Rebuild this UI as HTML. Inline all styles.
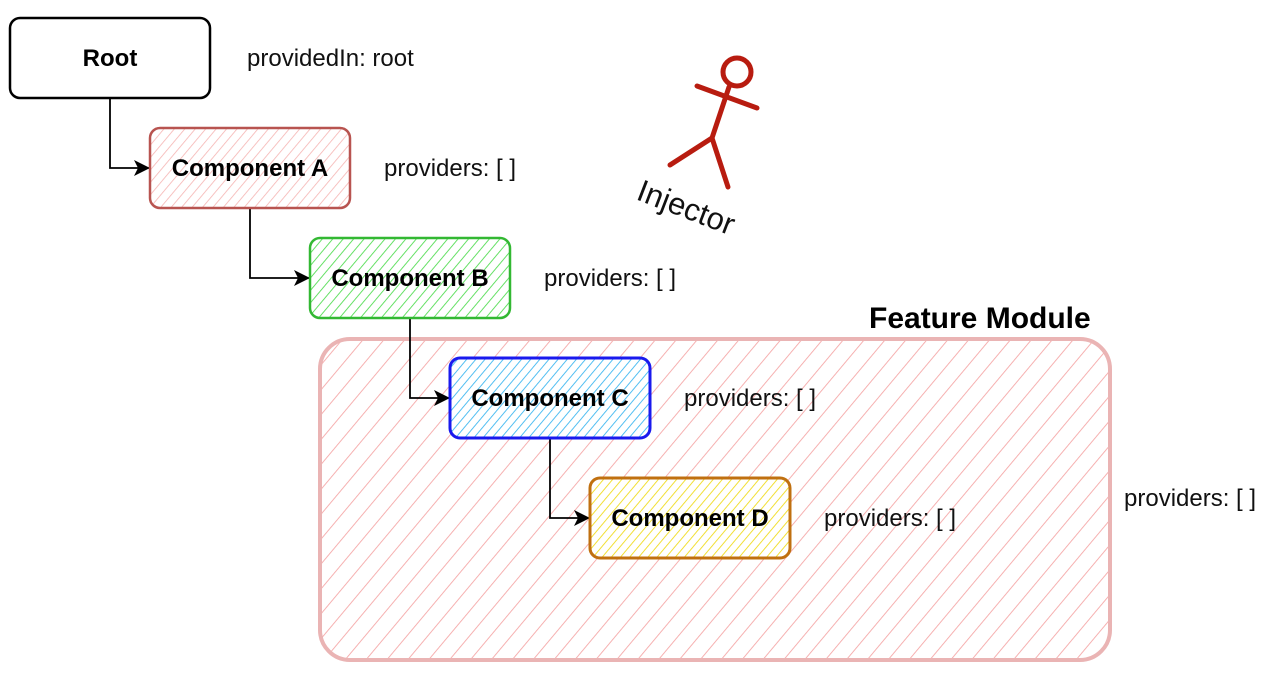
<!DOCTYPE html>
<html><head><meta charset="utf-8"><style>
html,body{margin:0;padding:0;background:#fff;}
svg{display:block;}
text{font-family:"Liberation Sans",Arial,sans-serif;}
.b{font-weight:bold;font-size:24px;text-anchor:middle;}
.p{font-size:24px;fill:#111;}
</style></head><body>
<svg width="1267" height="687" viewBox="0 0 1267 687" xmlns="http://www.w3.org/2000/svg">
<defs>
<pattern id="hm" patternUnits="userSpaceOnUse" width="16" height="16" patternTransform="rotate(40)"><line x1="0" y1="0" x2="0" y2="16" stroke="#f5a8a8" stroke-width="1.8"/></pattern>
<pattern id="ha" patternUnits="userSpaceOnUse" width="8" height="8" patternTransform="rotate(40)"><line x1="0" y1="0" x2="0" y2="8" stroke="#f5b4b2" stroke-width="1.6"/></pattern>
<pattern id="hb" patternUnits="userSpaceOnUse" width="8" height="8" patternTransform="rotate(40)"><line x1="0" y1="0" x2="0" y2="8" stroke="#55dd55" stroke-width="1.8"/></pattern>
<pattern id="hc" patternUnits="userSpaceOnUse" width="7" height="7" patternTransform="rotate(40)"><line x1="0" y1="0" x2="0" y2="7" stroke="#40b8f0" stroke-width="1.8"/></pattern>
<pattern id="hd" patternUnits="userSpaceOnUse" width="7" height="7" patternTransform="rotate(40)"><line x1="0" y1="0" x2="0" y2="7" stroke="#f0dc20" stroke-width="1.8"/></pattern>
<marker id="ar" markerWidth="16" markerHeight="16" refX="15" refY="8" orient="auto" markerUnits="userSpaceOnUse"><path d="M0,0 L16,8 L0,16 L4,8 Z" fill="#000"/></marker>
</defs>

<rect x="320" y="339" width="790" height="321" rx="30" fill="url(#hm)" stroke="#eab4b4" stroke-width="4"/>
<text x="869" y="328" font-size="30" font-weight="bold" fill="#000">Feature Module</text>

<path d="M110,98 V168 H149" fill="none" stroke="#000" stroke-width="1.8" marker-end="url(#ar)"/>
<path d="M250,208 V278 H309" fill="none" stroke="#000" stroke-width="1.8" marker-end="url(#ar)"/>
<path d="M410,318 V398 H449" fill="none" stroke="#000" stroke-width="1.8" marker-end="url(#ar)"/>
<path d="M550,438 V518 H589" fill="none" stroke="#000" stroke-width="1.8" marker-end="url(#ar)"/>

<rect x="10" y="18" width="200" height="80" rx="10" fill="#fff" stroke="#000" stroke-width="2.5"/>
<text class="b" x="110" y="66">Root</text>
<text class="p" x="247" y="66">providedIn: root</text>

<rect x="150" y="128" width="200" height="80" rx="10" fill="#fff"/>
<rect x="150" y="128" width="200" height="80" rx="10" fill="url(#ha)" stroke="#b85450" stroke-width="2.5"/>
<text class="b" x="250" y="176">Component A</text>
<text class="p" x="384" y="176">providers: [ ]</text>

<rect x="310" y="238" width="200" height="80" rx="10" fill="#fff"/>
<rect x="310" y="238" width="200" height="80" rx="10" fill="url(#hb)" stroke="#33b833" stroke-width="2.5"/>
<text class="b" x="410" y="286">Component B</text>
<text class="p" x="544" y="286">providers: [ ]</text>

<rect x="450" y="358" width="200" height="80" rx="10" fill="#fff"/>
<rect x="450" y="358" width="200" height="80" rx="10" fill="url(#hc)" stroke="#1a1aee" stroke-width="3"/>
<text class="b" x="550" y="406">Component C</text>
<text class="p" x="684" y="406">providers: [ ]</text>

<rect x="590" y="478" width="200" height="80" rx="10" fill="#fff"/>
<rect x="590" y="478" width="200" height="80" rx="10" fill="url(#hd)" stroke="#c07010" stroke-width="3"/>
<text class="b" x="690" y="526">Component D</text>
<text class="p" x="824" y="526">providers: [ ]</text>

<text class="p" x="1124" y="506">providers: [ ]</text>

<g stroke="#b81c10" stroke-width="5" fill="none" stroke-linecap="round">
<circle cx="737" cy="72" r="14"/>
<line x1="729" y1="87" x2="712" y2="138"/>
<line x1="697" y1="86" x2="757" y2="108"/>
<line x1="712" y1="138" x2="670" y2="165"/>
<line x1="712" y1="138" x2="728" y2="187"/>
</g>
<text x="635" y="199" font-size="31" fill="#111" transform="rotate(21 635 199)">Injector</text>
</svg>
</body></html>
